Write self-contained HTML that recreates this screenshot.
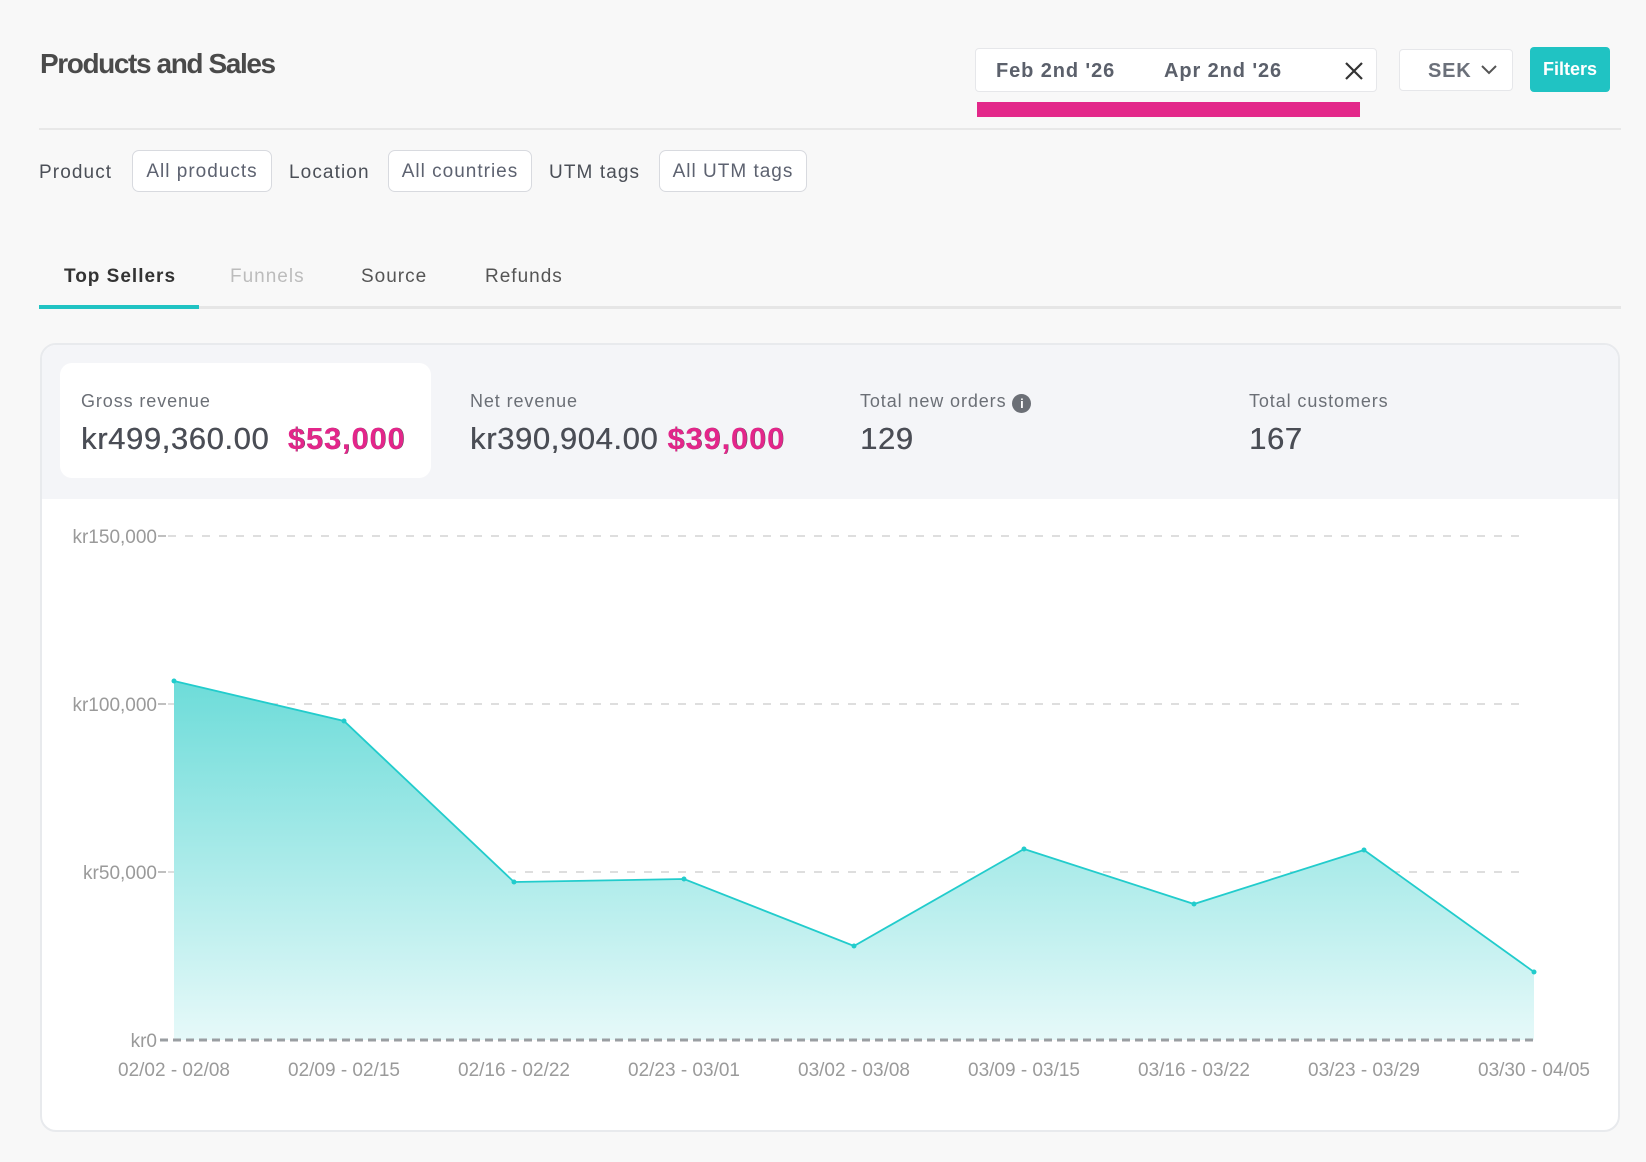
<!DOCTYPE html>
<html><head><meta charset="utf-8"><style>
*{box-sizing:border-box;margin:0;padding:0}
body{width:1646px;height:1162px;background:#f8f8f8;font-family:"Liberation Sans",sans-serif;position:relative;overflow:hidden;color:#555}
.a{position:absolute;white-space:nowrap}
.box{position:absolute;background:#fff;border:1px solid #e6e7ea;border-radius:4px}
.pill{position:absolute;border:1.5px solid #d8dadf;border-radius:7px;background:#fff;font-size:19px;color:#5d6270;letter-spacing:1px;display:flex;align-items:center;justify-content:center;padding-top:2px}
.lbl{font-size:19px;color:#4b4f57;letter-spacing:1.1px}
.tab{font-size:19px;letter-spacing:1px}
.sl{font-size:18px;color:#6b6f76;letter-spacing:.9px}
.sv{font-size:31px;color:#4a4d55;letter-spacing:.6px;font-weight:bold;-webkit-text-stroke:0}
.sv{font-weight:normal;text-shadow:0.4px 0 0 #4a4d55}
.pk{color:#e3268a;font-weight:bold;letter-spacing:.8px}
</style></head><body>
<div class="a" style="left:40px;top:48px;font-size:28px;font-weight:bold;color:#4a4a4a;letter-spacing:-1.4px">Products and Sales</div>

<div class="box" style="left:975px;top:48px;width:402px;height:44px"></div>
<div class="a" style="left:996px;top:60px;font-size:20px;font-weight:bold;color:#5b606b;letter-spacing:.9px">Feb 2nd '26</div>
<div class="a" style="left:1164px;top:60px;font-size:20px;font-weight:bold;color:#5b606b;letter-spacing:.9px">Apr 2nd '26</div>
<svg class="a" style="left:1344px;top:61px" width="20" height="20"><path d="M2 2L18 18M18 2L2 18" stroke="#333" stroke-width="2.2"/></svg>
<div style="position:absolute;left:977px;top:102px;width:383px;height:15px;background:#e3288a"></div>
<div class="box" style="left:1399px;top:49px;width:114px;height:42px"></div>
<div class="a" style="left:1428px;top:60px;font-size:20px;font-weight:bold;color:#6b707a;letter-spacing:.8px">SEK</div>
<svg class="a" style="left:1480px;top:64px" width="18" height="12"><path d="M2 2L9 9L16 2" stroke="#555" stroke-width="2" fill="none"/></svg>
<div style="position:absolute;left:1530px;top:47px;width:80px;height:45px;background:#20c3c3;border-radius:4px;color:#fff;font-weight:bold;font-size:18px;display:flex;align-items:center;justify-content:center">Filters</div>

<div style="position:absolute;left:39px;top:128px;width:1582px;height:2px;background:#e8e8e8"></div>

<div class="a lbl" style="left:39px;top:162px">Product</div>
<div class="pill" style="left:132px;top:150px;width:140px;height:42px">All products</div>
<div class="a lbl" style="left:289px;top:162px">Location</div>
<div class="pill" style="left:388px;top:150px;width:144px;height:42px">All countries</div>
<div class="a lbl" style="left:549px;top:162px">UTM tags</div>
<div class="pill" style="left:659px;top:150px;width:148px;height:42px">All UTM tags</div>

<div class="a tab" style="left:64px;top:266px;font-weight:bold;color:#333">Top Sellers</div>
<div class="a tab" style="left:230px;top:266px;color:#bcbcbc">Funnels</div>
<div class="a tab" style="left:361px;top:266px;color:#555">Source</div>
<div class="a tab" style="left:485px;top:266px;color:#555">Refunds</div>
<div style="position:absolute;left:39px;top:306px;width:1582px;height:3px;background:#e6e6e6"></div>
<div style="position:absolute;left:39px;top:305px;width:160px;height:4px;background:#20c3c3"></div>

<div style="position:absolute;left:40px;top:343px;width:1580px;height:789px;background:#fff;border:2px solid #e8eaed;border-radius:16px;overflow:hidden">
 <div style="position:absolute;left:0;top:0;width:100%;height:154px;background:#f4f5f8"></div>
</div>
<div style="position:absolute;left:60px;top:363px;width:371px;height:115px;background:#fff;border-radius:12px"></div>
<div class="a sl" style="left:81px;top:391px">Gross revenue</div>
<div class="a sv" style="left:81px;top:421px">kr499,360.00 <span class="pk">&nbsp;$53,000</span></div>
<div class="a sl" style="left:470px;top:391px">Net revenue</div>
<div class="a sv" style="left:470px;top:421px">kr390,904.00 <span class="pk">$39,000</span></div>
<div class="a sl" style="left:860px;top:391px">Total new orders <span style="display:inline-block;width:19px;height:19px;border-radius:50%;background:#6b6f76;color:#fff;font-size:13px;font-weight:bold;text-align:center;line-height:19px;vertical-align:-1px;letter-spacing:0">i</span></div>
<div class="a sv" style="left:860px;top:421px">129</div>
<div class="a sl" style="left:1249px;top:391px">Total customers</div>
<div class="a sv" style="left:1249px;top:421px">167</div>

<svg class="a" style="left:0;top:0" width="1646" height="1162">
<defs><linearGradient id="g" x1="0" y1="0" x2="0" y2="1"><stop offset="0" stop-color="#6ddcd9"/><stop offset="1" stop-color="#e6f9f9"/></linearGradient></defs>
<g stroke="#d4d4d4" stroke-width="1.5" stroke-dasharray="8 9">
<line x1="168" y1="536" x2="1520" y2="536"/><line x1="168" y1="704" x2="1520" y2="704"/><line x1="168" y1="872" x2="1520" y2="872"/></g>
<polygon points="174,681 344,721 514,882 684,879 854,946 1024,849 1194,904 1364,850 1534,972 1534,1040 174,1040" fill="url(#g)"/>
<polyline points="174,681 344,721 514,882 684,879 854,946 1024,849 1194,904 1364,850 1534,972" fill="none" stroke="#22cccc" stroke-width="1.8"/>
<g fill="#22cccc"><circle cx="174" cy="681" r="2.5"/><circle cx="344" cy="721" r="2.5"/><circle cx="514" cy="882" r="2.5"/><circle cx="684" cy="879" r="2.5"/><circle cx="854" cy="946" r="2.5"/><circle cx="1024" cy="849" r="2.5"/><circle cx="1194" cy="904" r="2.5"/><circle cx="1364" cy="850" r="2.5"/><circle cx="1534" cy="972" r="2.5"/></g>
<line x1="160" y1="1040" x2="1534" y2="1040" stroke="#9a9ea2" stroke-width="3" stroke-dasharray="8 5"/>
<g stroke="#aaa" stroke-width="1.5"><line x1="158" y1="536" x2="166" y2="536"/><line x1="158" y1="704" x2="166" y2="704"/><line x1="158" y1="872" x2="166" y2="872"/></g>
<g font-family="Liberation Sans,sans-serif" font-size="19" fill="#9a9a9a" text-anchor="end">
<text x="157" y="543">kr150,000</text><text x="157" y="711">kr100,000</text><text x="157" y="879">kr50,000</text><text x="157" y="1047">kr0</text></g>
<g font-family="Liberation Sans,sans-serif" font-size="19" fill="#9a9a9a" text-anchor="middle">
<text x="174" y="1076">02/02 - 02/08</text><text x="344" y="1076">02/09 - 02/15</text><text x="514" y="1076">02/16 - 02/22</text><text x="684" y="1076">02/23 - 03/01</text><text x="854" y="1076">03/02 - 03/08</text><text x="1024" y="1076">03/09 - 03/15</text><text x="1194" y="1076">03/16 - 03/22</text><text x="1364" y="1076">03/23 - 03/29</text><text x="1534" y="1076">03/30 - 04/05</text></g>
</svg>
</body></html>
